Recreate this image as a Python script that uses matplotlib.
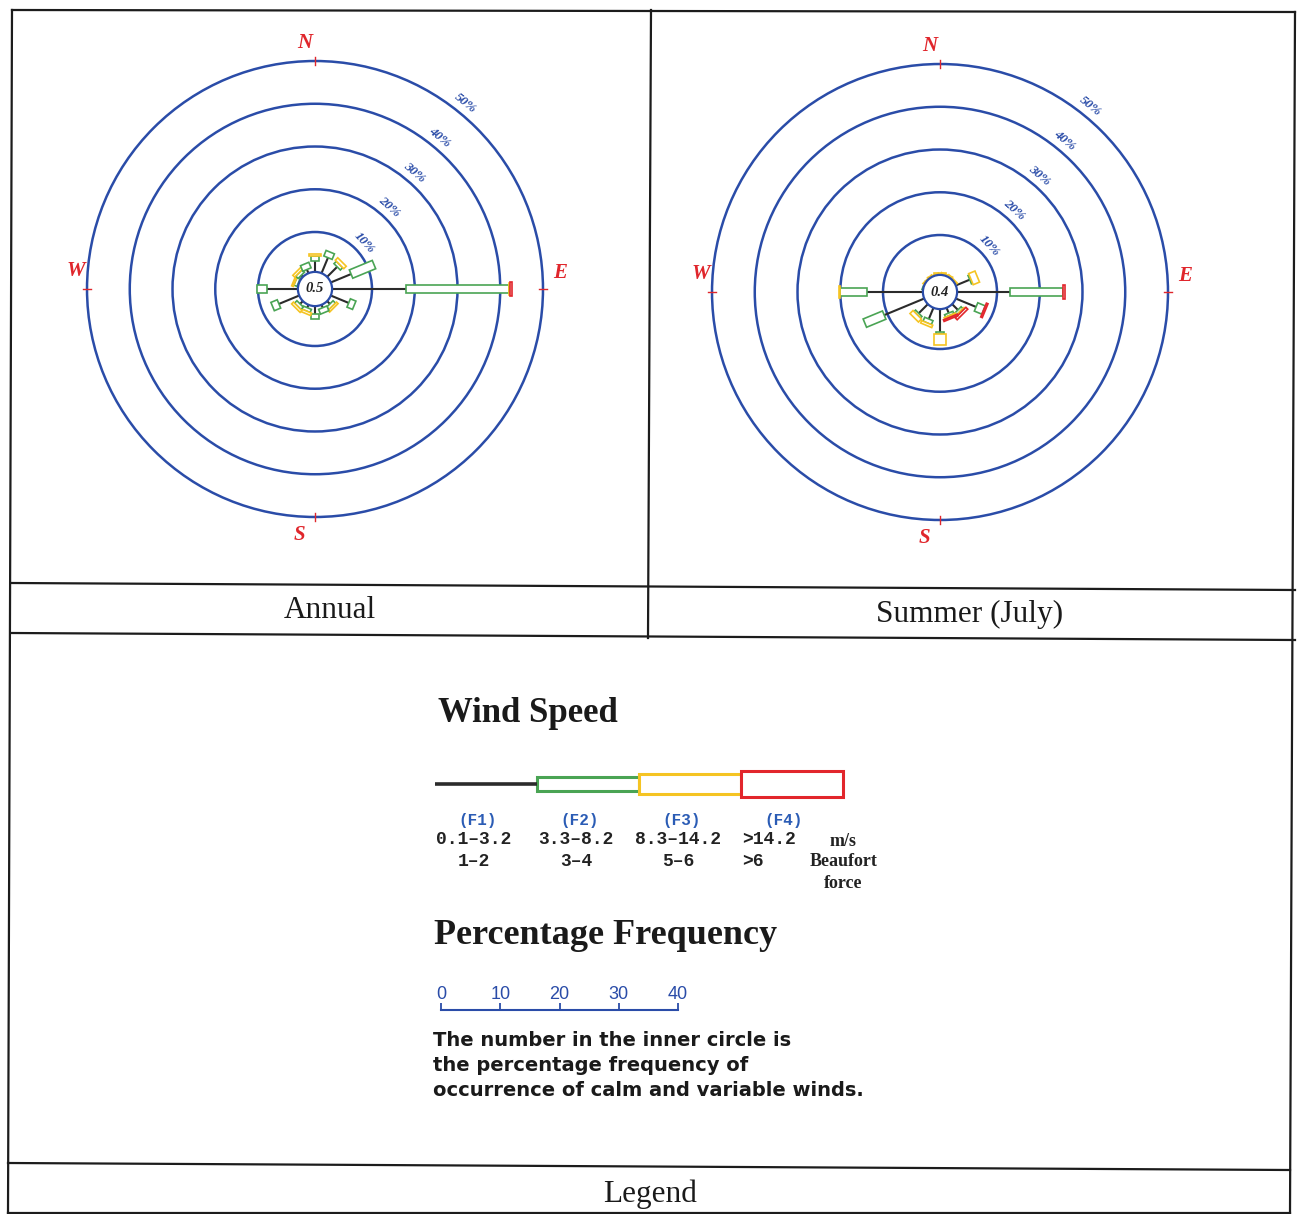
import numpy as np
import matplotlib.pyplot as plt
from matplotlib.patches import Circle, Polygon, Rectangle

W_PX, H_PX = 1300, 1214

# 16 compass points, clockwise from north
directions = ["N", "NNE", "NE", "ENE", "E", "ESE", "SE", "SSE",
              "S", "SSW", "SW", "WSW", "W", "WNW", "NW", "NNW"]
bearings = np.arange(16) * 22.5

# percentage frequency per speed class
annual_calm = 0.5
annual_f1 = [3.2, 4.6, 4.0, 5.8, 18.0, 5.2, 1.6, 1.4, 2.6, 1.4, 1.6, 5.8, 8.0, 0.8, 1.2, 1.6]
annual_f2 = [1.2, 1.4, 0.8, 5.8, 24.0, 1.4, 0.8, 1.2, 1.2, 0.8, 0.8, 1.6, 2.3, 0.8, 0.8, 1.4]
annual_f3 = [0.5, 0.0, 0.8, 0.0, 0.3, 0.0, 0.5, 0.0, 0.0, 0.6, 0.6, 0.0, 0.0, 0.4, 0.6, 0.0]
annual_f4 = [0.0, 0.0, 0.0, 0.0, 0.4, 0.0, 0.0, 0.0, 0.0, 0.0, 0.0, 0.0, 0.0, 0.0, 0.0, 0.0]

summer_calm = 0.4
summer_f1 = [0.3, 0.3, 0.3, 4.2, 13.1, 5.8, 2.6, 2.0, 6.1, 3.5, 3.7, 10.8, 13.8, 0.5, 0.3, 0.3]
summer_f2 = [0.3, 0.3, 0.3, 0.3, 12.4, 1.9, 0.6, 0.6, 0.5, 1.0, 0.5, 4.9, 6.3, 0.3, 0.3, 0.3]
summer_f3 = [0.4, 0.4, 0.4, 1.6, 0.0, 0.0, 0.3, 0.4, 2.5, 0.6, 1.0, 0.0, 0.3, 0.0, 0.3, 0.3]
summer_f4 = [0.0, 0.0, 0.0, 0.0, 0.5, 0.4, 0.6, 0.4, 0.0, 0.0, 0.0, 0.0, 0.0, 0.0, 0.0, 0.0]

ring_levels = [10, 20, 30, 40, 50]
compass = ["N", "E", "S", "W"]

speed_classes = ["(F1)", "(F2)", "(F3)", "(F4)"]
speed_ms = ["0.1–3.2", "3.3–8.2", "8.3–14.2", ">14.2"]
speed_beaufort = ["1–2", "3–4", "5–6", ">6"]
class_colors = ["#2b2b2b", "#4aa454", "#f5c423", "#e2262c"]

scale_ticks = [0, 10, 20, 30, 40]

legend_note = ["The number in the inner circle is",
               "the percentage frequency of",
               "occurrence of calm and variable winds."]

RING = "#2a4ca8"
RED = "#e0262c"
PX_PER_PCT = 4.275
OFF = 3.33     # radius (in % units) where 0 % sits
CALM_R = 4.0
HALF_W = [1.05, 1.4, 1.75]   # half thickness of F2/F3/F4 boxes


def draw_rose(ax, f1, f2, f3, f4, calm):
    for p in ring_levels:
        ax.add_patch(Circle((0, 0), OFF + p, fill=False, ec=RING, lw=1.8))
        b = np.radians(37 + 100 / p)
        r = OFF + p + 2.5
        ax.text(r * np.sin(b), r * np.cos(b), f"{p}%", rotation=-np.degrees(b),
                ha="center", va="center", fontsize=9.5, color=RING,
                family="Liberation Serif", weight="bold", style="italic")
    # compass ticks and letters
    outer = OFF + ring_levels[-1]
    label_pos = {"N": (-2.3, 57.6), "E": (57.4, 3.7), "S": (-3.7, -57.6), "W": (-56.0, 4.3)}
    for k, name in enumerate(compass):
        rad = np.radians(k * 90)
        u = np.array([np.sin(rad), np.cos(rad)])
        ax.plot([(outer - 0.9) * u[0], (outer + 0.9) * u[0]],
                [(outer - 0.9) * u[1], (outer + 0.9) * u[1]], color=RED, lw=1)
        ax.text(*label_pos[name], name, ha="center", va="center", fontsize=15,
                color=RED, family="Liberation Serif", weight="bold", style="italic")
    # spokes
    for b, a, c, d, e in zip(bearings, f1, f2, f3, f4):
        rad = np.radians(b)
        u = np.array([np.sin(rad), np.cos(rad)])
        v = np.array([u[1], -u[0]])
        r = OFF + a
        ax.plot([CALM_R * u[0], r * u[0]], [CALM_R * u[1], r * u[1]],
                color=class_colors[0], lw=1.5, solid_capstyle="butt", zorder=2)
        for length, half, col in zip((c, d, e), HALF_W, class_colors[1:]):
            if length <= 0:
                continue
            pts = [r * u + half * v, (r + length) * u + half * v,
                   (r + length) * u - half * v, r * u - half * v]
            ax.add_patch(Polygon(pts, closed=True, fc="white", ec=col, lw=1.2, zorder=3))
            r += length
    ax.add_patch(Circle((0, 0), CALM_R, fc="white", ec=RING, lw=1.6, zorder=4))
    ax.text(0, 0, f"{calm}", ha="center", va="center", fontsize=10.5, zorder=5,
            family="Liberation Serif", weight="bold", style="italic", color="#222222")


def rose_axes(fig, cx, cy, half=260):
    ax = fig.add_axes([(cx - half) / W_PX, (H_PX - cy - half) / H_PX,
                       2 * half / W_PX, 2 * half / H_PX])
    lim = half / PX_PER_PCT
    ax.set_xlim(-lim, lim)
    ax.set_ylim(-lim, lim)
    ax.set_aspect("equal")
    ax.patch.set_alpha(0)
    ax.axis("off")
    return ax


fig = plt.figure(figsize=(W_PX / 100, H_PX / 100), dpi=100)

# page / table frame in pixel coords
bg = fig.add_axes([0, 0, 1, 1])
bg.set_xlim(0, W_PX)
bg.set_ylim(H_PX, 0)
bg.axis("off")
table_lines = [((12, 10), (1295, 12)), ((12, 10), (8, 1214)), ((1295, 12), (1290, 1214)),
               ((651, 10), (648, 638)), ((11, 583), (1295, 590)), ((11, 633), (1295, 640)),
               ((8, 1163), (1290, 1170)), ((8, 1213), (1290, 1213))]
for (x0, y0), (x1, y1) in table_lines:
    bg.plot([x0, x1], [y0, y1], color="#1c1c1c", lw=1.6)

cap = dict(ha="center", va="center", fontsize=22.5, family="Liberation Serif", color="#1a1a1a")
bg.text(330, 611, "Annual", **cap)
bg.text(970, 614, "Summer (July)", **cap)
bg.text(650, 1194, "Legend", **cap)

draw_rose(rose_axes(fig, 315, 289), annual_f1, annual_f2, annual_f3, annual_f4, annual_calm)
draw_rose(rose_axes(fig, 940, 292), summer_f1, summer_f2, summer_f3, summer_f4, summer_calm)

# ---- legend panel ----
bg.text(438, 714, "Wind Speed", ha="left", va="center", fontsize=25,
        family="Liberation Serif", weight="bold", color="#1a1a1a")

BAR_X0, SEG_W, BAR_Y = 435, 102, 784
seg_heights = [0, 14, 20, 26]
for i, col in enumerate(class_colors):
    x0 = BAR_X0 + i * SEG_W
    if seg_heights[i] == 0:
        bg.plot([x0, x0 + SEG_W], [BAR_Y, BAR_Y], color=col, lw=2.6, solid_capstyle="butt")
    else:
        h = seg_heights[i]
        bg.add_patch(Rectangle((x0, BAR_Y - h / 2), SEG_W, h, fc="white", ec=col, lw=2.2))
    xc = x0 + SEG_W / 2
    bg.text(xc - 8, 820, speed_classes[i], ha="center", va="center", fontsize=11.5,
            family="Liberation Mono", weight="bold", color="#2b5cb5")
    if i < 3:
        bg.text(xc - 12, 840, speed_ms[i], ha="center", va="center", fontsize=13,
                family="Liberation Mono", weight="bold", color="#222222")
        bg.text(xc - 12, 861, speed_beaufort[i], ha="center", va="center", fontsize=13,
                family="Liberation Mono", weight="bold", color="#222222")
    else:
        bg.text(x0 + 1, 840, speed_ms[i], ha="left", va="center", fontsize=13,
                family="Liberation Mono", weight="bold", color="#222222")
        bg.text(x0 + 1, 861, speed_beaufort[i], ha="left", va="center", fontsize=13,
                family="Liberation Mono", weight="bold", color="#222222")
unit = dict(ha="center", va="center", fontsize=13, family="Liberation Serif",
            weight="bold", color="#222222")
bg.text(843, 841, "m/s", **unit)
bg.text(844, 862, "Beaufort", **unit)
bg.text(843, 883, "force", **unit)

bg.text(434, 935, "Percentage Frequency", ha="left", va="center", fontsize=26,
        family="Liberation Serif", weight="bold", color="#1a1a1a")

# frequency scale bar
sc = fig.add_axes([441 / W_PX, (H_PX - 1010) / H_PX, 237 / W_PX, 4 / H_PX])
sc.set_xlim(scale_ticks[0], scale_ticks[-1])
sc.set_ylim(0, 1)
sc.patch.set_alpha(0)
for s in ["top", "left", "right"]:
    sc.spines[s].set_visible(False)
sc.spines["bottom"].set_color(RING)
sc.spines["bottom"].set_linewidth(1.5)
sc.set_yticks([])
sc.set_xticks(scale_ticks)
sc.set_xticklabels([str(t) for t in scale_ticks])
sc.tick_params(axis="x", direction="in", length=5, width=1.3, color=RING,
               bottom=True, top=False, labelbottom=False, labeltop=True,
               labelsize=13, labelcolor=RING, pad=2)
for lab in sc.get_xticklabels():
    lab.set_family("Liberation Sans")

for i, line in enumerate(legend_note):
    bg.text(433, 1041 + i * 24.5, line, ha="left", va="center", fontsize=14,
            family="DejaVu Sans", weight="bold", color="#1a1a1a")

fig.savefig("out.png", dpi=100)
